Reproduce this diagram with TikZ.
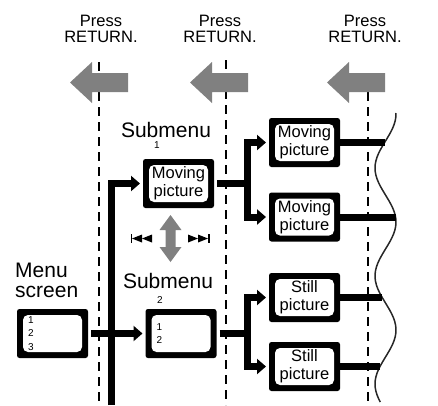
\documentclass[tikz,border=0pt]{standalone}
\usepackage{fontspec}
\setmainfont{Liberation Sans}
\usetikzlibrary{arrows.meta}
\definecolor{arrowgray}{gray}{0.5}

\begin{document}
\begin{tikzpicture}[x=1pt, y=-1pt, >={Triangle[length=9pt,width=15pt]},
    scrbox/.style={fill=black, rounded corners=2.5pt, minimum width=71pt, minimum height=49pt,
        inner sep=0pt, outer sep=0pt, align=center, font=\fontsize{16.5}{18}\selectfont,
        path picture={\fill[white, rounded corners=5pt]
            ([xshift=6pt,yshift=6pt]path picture bounding box.south west) rectangle
            ([xshift=-6pt,yshift=-6pt]path picture bounding box.north east);}},
    listbox/.style={scrbox, align=left, text width=49pt, font=\fontsize{10}{13.5}\selectfont},
    link/.style={line width=7pt, shorten >=3pt, shorten <=3pt},
    guide/.style={line width=2pt, dash pattern=on 9pt off 6pt},
    press/.style={align=center, inner sep=0pt, font=\fontsize{16.5}{16.5}\selectfont},
    title/.style={inner sep=0pt, font=\fontsize{21}{20}\selectfont},
    num/.style={inner sep=0pt, font=\fontsize{10}{12}\selectfont}]
    \useasboundingbox (0,0) rectangle (438,405);
    % Press RETURN labels
    \node[press] (pressA) at (101,29) {Press\\RETURN.};
    \node[press] (pressB) at (220,29) {Press\\RETURN.};
    \node[press] (pressC) at (365,29) {Press\\RETURN.};
    % dashed guides
    \draw[guide] (99,62) -- (99,405);
    \draw[guide] (226,60) -- (226,405);
    \draw[guide] (368,92) -- (368,405);
    % gray RETURN arrows
    \foreach \t in {70,190,327}
        \fill[arrowgray] (\t,82.5) -- ++(22,-20.5) -- ++(0,11) -- ++(36,0) -- ++(0,19)
            -- ++(-36,0) -- ++(0,11) -- cycle;
    % wavy cut on the right
    \draw[line width=1.5pt, black!85] plot[domain=113:402, samples=80, smooth]
        ({385.5+10.5*cos((\x-114)*10/3)},\x);
    \coordinate (cutA) at ({385.5+10.5*cos((142.5-114)*10/3)},142.5);
    \coordinate (cutB) at ({385.5+10.5*cos((217-114)*10/3)},217);
    \coordinate (cutC) at ({385.5+10.5*cos((297.5-114)*10/3)},297.5);
    \coordinate (cutD) at ({385.5+10.5*cos((366.5-114)*10/3)},366.5);
    % screens
    \node[listbox] (menu) at (52.5,333.5) {1\\2\\3};
    \node[scrbox] (subA) at (178.5,183.5) {Moving\\picture};
    \node[listbox] (subB) at (181,333.5) {1\\2};
    \node[scrbox] (movA) at (304.5,142.5) {Moving\\picture};
    \node[scrbox] (movB) at (304.5,217) {Moving\\picture};
    \node[scrbox] (stillA) at (304.5,297.5) {Still\\picture};
    \node[scrbox] (stillB) at (304.5,366.5) {Still\\picture};
    % titles
    \node[title, align=left, anchor=west] (menulbl) at (15,280) {Menu\\screen};
    \node[title] (subAlbl) at (166,130) {Submenu};
    \node[title] (subBlbl) at (168,281) {Submenu};
    \node[num] (subAnum) at (157,145) {1};
    \node[num] (subBnum) at (160,300) {2};
    % connectors
    \coordinate (trunk) at (111,405);
    \coordinate (forkA) at (247,183.5);
    \coordinate (forkB) at (247,333.5);
    \draw[link, shorten <=0pt, ->] (trunk) |- (subA.west);
    \draw[link, ->] (menu.east) -- (subB.west);
    \draw[link, shorten >=0pt] (subA.east) -- (forkA);
    \draw[link, shorten >=0pt] (subB.east) -- (forkB);
    \draw[link, <->] (movA.west) -| (forkA) |- (movB.west);
    \draw[link, <->] (stillA.west) -| (forkB) |- (stillB.west);
    \draw[link, shorten <=0pt, shorten >=0pt] (movA.east) -- (cutA);
    \draw[link, shorten <=0pt, shorten >=0pt] (movB.east) -- (cutB);
    \draw[link, shorten <=0pt, shorten >=0pt] (stillA.east) -- (cutC);
    \draw[link, shorten <=0pt, shorten >=0pt] (stillB.east) -- (cutD);
    % scroll arrow and skip marks
    \fill[arrowgray] (170.5,215) -- ++(11,15) -- ++(-6,0) -- (175.5,247) -- ++(6,0)
        -- (170.5,262) -- ++(-11,-15) -- ++(6,0) -- (165.5,230) -- ++(-6,0) -- cycle;
    \fill (130.5,234) rectangle (132,243);
    \fill (132,238.5) -- (142,234.5) -- (142,242.5) -- cycle;
    \fill (142,238.5) -- (152,234.5) -- (152,242.5) -- cycle;
    \fill (188,234.5) -- (198,238.5) -- (188,242.5) -- cycle;
    \fill (198,234.5) -- (208,238.5) -- (198,242.5) -- cycle;
    \fill (208,234) rectangle (209.5,243);
\end{tikzpicture}
\end{document}
